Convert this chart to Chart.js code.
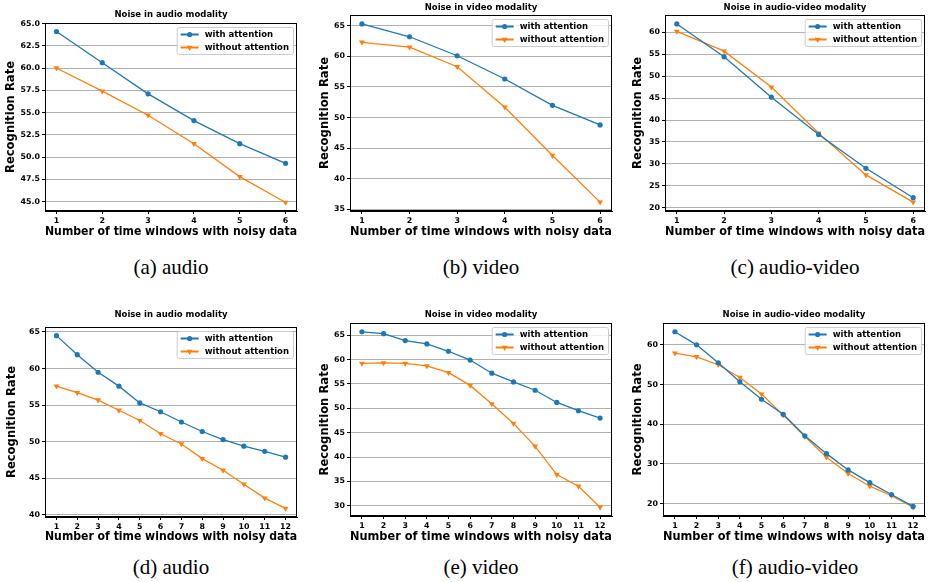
<!DOCTYPE html>
<html>
<head>
<meta charset="utf-8">
<script src="https://cdn.jsdelivr.net/npm/chart.js@4/dist/chart.umd.min.js"></script>
<style>
  body { margin: 0; background: #fff; }
  #page { position: relative; width: 936px; height: 582px; overflow: hidden; background: #fff; }
  canvas { position: absolute; }
  .cap { position: absolute; width: 200px; height: 24px; line-height: 24px; text-align: center;
         font-family: "Liberation Serif", serif; font-size: 21px; color: #000; }
</style>
</head>
<body>
<div id="page"></div>
<script>
// x values (number of time windows with noisy data)
var windows6 = [1, 2, 3, 4, 5, 6]
var windows12 = [1, 2, 3, 4, 5, 6, 7, 8, 9, 10, 11, 12]

// recognition rates, top row (6 windows)
var audio6With = [64.1, 60.6, 57.1, 54.1, 51.5, 49.3]
var audio6Without = [60.0, 57.4, 54.7, 51.5, 47.8, 44.9]
var video6With = [65.3, 63.2, 60.1, 56.3, 52.0, 48.8]
var video6Without = [62.3, 61.5, 58.3, 51.7, 43.8, 36.2]
var av6With = [61.9, 54.4, 45.2, 36.7, 29.0, 22.3]
var av6Without = [60.2, 55.7, 47.5, 37.0, 27.5, 21.3]

// bottom row (12 windows)
var audio12With = [64.5, 61.9, 59.5, 57.6, 55.3, 54.1, 52.7, 51.4, 50.3, 49.4, 48.7, 47.9]
var audio12Without = [57.6, 56.7, 55.7, 54.3, 52.9, 51.1, 49.7, 47.7, 46.1, 44.2, 42.3, 40.9]
var video12With = [65.7, 65.3, 63.9, 63.2, 61.7, 59.9, 57.2, 55.4, 53.7, 51.2, 49.5, 48.0]
var video12Without = [59.2, 59.3, 59.2, 58.7, 57.3, 54.7, 50.9, 46.9, 42.2, 36.4, 34.0, 29.7]
var av12With = [63.3, 60.0, 55.5, 50.7, 46.3, 42.5, 37.1, 32.6, 28.5, 25.3, 22.3, 19.3]
var av12Without = [57.9, 57.0, 55.0, 51.8, 47.6, 42.3, 36.9, 31.7, 27.6, 24.4, 22.0, 19.1]

var seriesNames = ["with attention", "without attention"]
var titles = ["Noise in audio modality", "Noise in video modality", "Noise in audio-video modality",
              "Noise in audio modality", "Noise in video modality", "Noise in audio-video modality"]
var captions = ["(a) audio", "(b) video", "(c) audio-video", "(d) audio", "(e) video", "(f) audio-video"]
var yStepSizes = [2.5, 5, 5, 5, 5, 10]
var xLabel = "Number of time windows with noisy data"
var yLabel = "Recognition Rate"

var blue = "#1f77b4"
var orange = "#ff7f0e"

// where each panel sits on the page
var boxes = [
  { left: 0,   top: 0,   width: 310, height: 245, plotLeft: 45, plotRight: 297, plotTop: 23, plotBottom: 211, titleY: 15, yTitleX: 11, xTitleY: 232, capX: 171, capY: 267 },
  { left: 310, top: 0,   width: 310, height: 245, plotLeft: 40, plotRight: 302, plotTop: 15, plotBottom: 211, titleY: 8,  yTitleX: 15, xTitleY: 232, capX: 481, capY: 267 },
  { left: 620, top: 0,   width: 316, height: 245, plotLeft: 45, plotRight: 305, plotTop: 15, plotBottom: 211, titleY: 8,  yTitleX: 18, xTitleY: 232, capX: 795, capY: 267 },
  { left: 0,   top: 300, width: 310, height: 250, plotLeft: 45, plotRight: 297, plotTop: 27, plotBottom: 217, titleY: 15, yTitleX: 12, xTitleY: 237, capX: 171, capY: 567 },
  { left: 310, top: 300, width: 310, height: 250, plotLeft: 40, plotRight: 302, plotTop: 23, plotBottom: 216, titleY: 15, yTitleX: 15, xTitleY: 237, capX: 481, capY: 567 },
  { left: 620, top: 300, width: 316, height: 250, plotLeft: 43, plotRight: 305, plotTop: 23, plotBottom: 216, titleY: 15, yTitleX: 18, xTitleY: 237, capX: 795, capY: 567 }
]

var panelData = [
  [windows6, audio6With, audio6Without],
  [windows6, video6With, video6Without],
  [windows6, av6With, av6Without],
  [windows12, audio12With, audio12Without],
  [windows12, video12With, video12Without],
  [windows12, av12With, av12Without]
]

Chart.defaults.font.family = '"DejaVu Sans", sans-serif'
Chart.defaults.font.weight = 'bold'
Chart.defaults.color = '#000'

function drawMarker(ctx, style, x, y, r) {
  ctx.beginPath()
  if (style === 'circle') {
    ctx.arc(x, y, r, 0, Math.PI * 2)
  } else {
    // downward triangle
    ctx.moveTo(x - r * 0.866, y - r * 0.5)
    ctx.lineTo(x + r * 0.866, y - r * 0.5)
    ctx.lineTo(x, y + r)
    ctx.closePath()
  }
  ctx.fill()
}

// title over the axes, black frame round the plot and a matplotlib-like legend
var frameLegend = {
  id: 'frameLegend',
  afterDraw: function (chart) {
    var ctx = chart.ctx
    var a = chart.chartArea
    var opts = chart.options.plugins.frameLegend
    ctx.save()
    ctx.strokeStyle = '#000'
    ctx.lineWidth = 1
    ctx.strokeRect(Math.round(a.left) + 0.5, Math.round(a.top) + 0.5,
                   Math.round(a.right - a.left) - 1, Math.round(a.bottom - a.top) - 1)

    ctx.fillStyle = '#000'
    ctx.font = 'bold 8.5px "DejaVu Sans"'
    ctx.textAlign = 'center'
    ctx.textBaseline = 'middle'
    ctx.fillText(opts.title, (a.left + a.right) / 2, opts.titleY)

    var tw = 0
    chart.data.datasets.forEach(function (ds) {
      tw = Math.max(tw, ctx.measureText(ds.label).width)
    })
    var w = 28 + tw + 4
    var h = 27
    var x = a.right - 4 - w
    var y = a.top + 4
    ctx.beginPath()
    ctx.roundRect(x + 0.5, y + 0.5, w, h, 2)
    ctx.fillStyle = 'rgba(255,255,255,0.8)'
    ctx.fill()
    ctx.strokeStyle = '#cccccc'
    ctx.stroke()

    chart.data.datasets.forEach(function (ds, i) {
      var cy = y + 7.5 + i * 13
      ctx.strokeStyle = ds.borderColor
      ctx.lineWidth = 2
      ctx.beginPath()
      ctx.moveTo(x + 4, cy)
      ctx.lineTo(x + 22, cy)
      ctx.stroke()
      ctx.fillStyle = ds.borderColor
      drawMarker(ctx, ds.pointStyle, x + 13, cy, ds.pointStyle === 'circle' ? 2.6 : 3.4)
      ctx.fillStyle = '#000'
      ctx.textBaseline = 'middle'
      ctx.textAlign = 'left'
      ctx.fillText(ds.label, x + 28, cy + 0.5)
    })
    ctx.restore()
  }
}

var page = document.getElementById('page')

boxes.forEach(function (b, i) {
  var xs = panelData[i][0]
  var withVals = panelData[i][1]
  var withoutVals = panelData[i][2]

  var canvas = document.createElement('canvas')
  canvas.width = b.width
  canvas.height = b.height
  canvas.style.left = b.left + 'px'
  canvas.style.top = b.top + 'px'
  page.appendChild(canvas)

  var cap = document.createElement('div')
  cap.className = 'cap'
  cap.textContent = captions[i]
  cap.style.left = (b.capX - 100) + 'px'
  cap.style.top = (b.capY - 12) + 'px'
  page.appendChild(cap)

  // matplotlib style 5% margins
  var all = withVals.concat(withoutVals)
  var lo = Math.min.apply(null, all), hi = Math.max.apply(null, all)
  var yPad = (hi - lo) * 0.05
  var xPad = (xs[xs.length - 1] - xs[0]) * 0.05

  var axisLH = 11.6 * 1.2

  new Chart(canvas.getContext('2d'), {
    type: 'line',
    data: {
      datasets: [
        {
          label: seriesNames[0],
          data: xs.map(function (x, k) { return { x: x, y: withVals[k] } }),
          borderColor: blue,
          backgroundColor: blue,
          borderWidth: 1.3,
          pointStyle: 'circle',
          pointRadius: 2.6,
          pointBorderWidth: 0,
          pointBackgroundColor: blue
        },
        {
          label: seriesNames[1],
          data: xs.map(function (x, k) { return { x: x, y: withoutVals[k] } }),
          borderColor: orange,
          backgroundColor: orange,
          borderWidth: 1.3,
          pointStyle: 'triangle',
          pointRotation: 180,
          pointRadius: 3.4,
          pointBorderWidth: 0,
          pointBackgroundColor: orange
        }
      ]
    },
    options: {
      responsive: false,
      animation: false,
      devicePixelRatio: 1,
      events: [],
      layout: { padding: { top: b.plotTop, left: 0, bottom: 0, right: b.width - b.plotRight } },
      plugins: {
        legend: { display: false },
        tooltip: { enabled: false },
        title: { display: false },
        frameLegend: { title: titles[i], titleY: b.titleY }
      },
      scales: {
        x: {
          type: 'linear',
          min: xs[0] - xPad,
          max: xs[xs.length - 1] + xPad,
          afterFit: function (scale) { scale.height = b.height - b.plotBottom },
          grid: { drawOnChartArea: false, drawTicks: true, tickLength: 3, tickColor: '#000', color: '#000' },
          border: { color: '#000', width: 1 },
          ticks: {
            stepSize: 1, autoSkip: false, includeBounds: false, maxRotation: 0,
            padding: 2, color: '#000', font: { size: 7.9, weight: 'bold' }
          },
          title: {
            display: true, text: xLabel, color: '#000',
            font: { size: 11.6, weight: 'bold', lineHeight: 1.2 },
            padding: { top: 0, bottom: b.height - b.xTitleY - axisLH / 2 }
          }
        },
        y: {
          type: 'linear',
          min: lo - yPad,
          max: hi + yPad,
          afterFit: function (scale) { scale.width = b.plotLeft },
          grid: { color: '#b0b0b0', lineWidth: 1, drawTicks: true, tickLength: 3, tickColor: '#000' },
          border: { color: '#000', width: 1 },
          ticks: {
            stepSize: yStepSizes[i], includeBounds: false, padding: 2, color: '#000',
            font: { size: 7.9, weight: 'bold' },
            callback: function (v) { return yStepSizes[i] === 2.5 ? v.toFixed(1) : String(v) }
          },
          title: {
            display: true, text: yLabel, color: '#000',
            font: { size: 11.6, weight: 'bold', lineHeight: 1.2 },
            padding: { top: b.yTitleX - axisLH / 2, bottom: 0 }
          }
        }
      }
    },
    plugins: [frameLegend]
  })
})
</script>
</body>
</html>
